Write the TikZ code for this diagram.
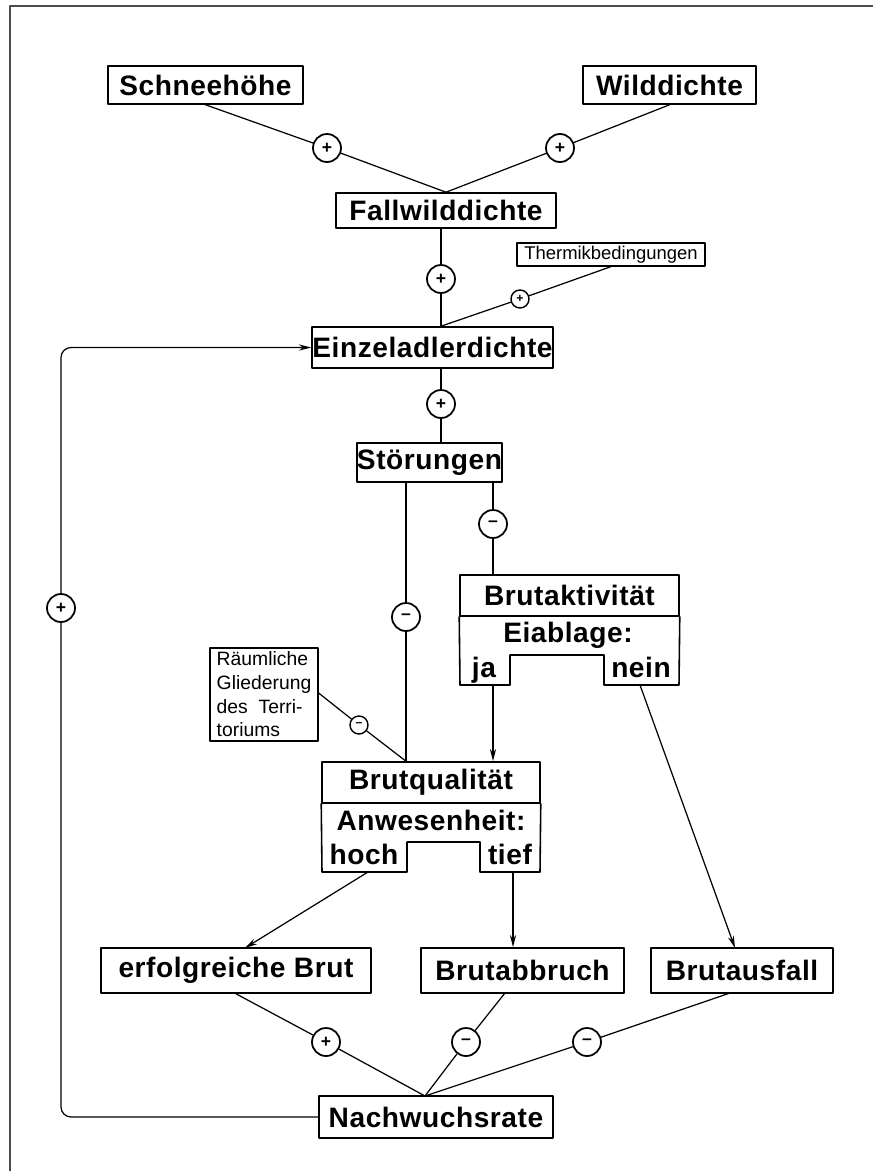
\documentclass[tikz,border=0pt]{standalone}
\usepackage{fontspec}
\setmainfont{Liberation Sans}
\newfontfamily\heavy[LetterSpace=2]{Liberation Sans}
\usetikzlibrary{arrows.meta}
\tikzset{
  factor/.style={draw,line width=0.9pt,font=\heavy\bfseries\fontsize{16}{18}\selectfont,inner sep=0pt,minimum height=0.76cm},
  label/.style={font=\heavy\bfseries\fontsize{16}{18}\selectfont,inner sep=0pt,anchor=base},
  remark/.style={draw,line width=0.7pt,font=\fontsize{10.5}{12.5}\selectfont,inner sep=0pt},
  sign/.style={circle,draw,line width=1pt,inner sep=0pt,minimum size=0.56cm,font=\bfseries},
  smallsign/.style={circle,draw,line width=0.8pt,inner sep=0pt,minimum size=0.36cm,font=\bfseries\scriptsize},
  link/.style={line width=0.7pt}
}
\begin{document}
\begin{tikzpicture}[x=0.02cm,y=-0.02cm,line cap=round,line join=round,>={Stealth[length=7pt,width=3.5pt]}]
\useasboundingbox (0,0) rectangle (873,1171);
\draw[line width=1.2pt,black!70] (873,6) -- (10,6) -- (10,1171);

\node[factor,minimum width=3.9cm] (schnee) at (205.5,85) {Schneehöhe};
\node[factor,minimum width=3.46cm] (wild) at (669.5,85) {Wilddichte};
\node[factor,minimum width=4.4cm,minimum height=0.7cm] (fall) at (446,210.5) {Fallwilddichte};
\node[remark,minimum width=3.76cm,minimum height=0.46cm] (thermik) at (611,254.5) {Thermikbedingungen};
\node[factor,minimum width=4.82cm,minimum height=0.82cm] (einzel) at (432.5,347.5) {Einzeladlerdichte};
\node[factor,minimum width=2.7cm,minimum height=0.78cm] (stoer) at (429.5,462.5) {Störungen};
\node[factor,minimum width=4.38cm,minimum height=0.82cm] (akt) at (569.5,595.5) {Brutaktivität};
\node[remark,minimum width=2.16cm,minimum height=1.86cm,align=left,font=\fontsize{11}{13.5}\selectfont] (raum) at (264,694.5)
  {Räumliche\\Gliederung\\des\ \ Terri-\\toriums};
\node[factor,minimum width=4.36cm,minimum height=0.82cm] (qual) at (431,782.5) {Brutqualität};
\node[factor,minimum width=5.4cm,minimum height=0.9cm] (erfolg) at (236,970.5) {erfolgreiche Brut};
\node[factor,minimum width=4.06cm,minimum height=0.9cm] (abbruch) at (522.5,970.5) {Brutabbruch};
\node[factor,minimum width=3.64cm,minimum height=0.9cm] (ausfall) at (742,970.5) {Brutausfall};
\node[factor,minimum width=4.68cm,minimum height=0.84cm] (nach) at (436,1117) {Nachwuchsrate};

% lower halves of the two split boxes
\draw[line width=0.9pt] (akt.south west) -- (460,685) -- (510,685) -- (510,655) -- (604,655) -- (604,685) -- (679,685) -- (akt.south east);
\node[label] (eiablage) at (568,642) {Eiablage:};
\node[label] (ja) at (484,677) {ja};
\node[label] (nein) at (641,677) {nein};
\coordinate (jaout) at (493,685);
\coordinate (neinout) at (640,685);
\draw[line width=0.9pt] (qual.south west) -- (322,872) -- (407,872) -- (407,842) -- (480,842) -- (480,872) -- (540,872) -- (qual.south east);
\node[label] (anwes) at (431,830) {Anwesenheit:};
\node[label] (hoch) at (364,864) {hoch};
\node[label] (tief) at (510,864) {tief};
\coordinate (hochout) at (368,872);
\coordinate (tiefout) at (513,872);

\node[sign] (s1) at (327,148) {+};
\node[sign] (s2) at (560,148) {+};
\node[sign] (s3) at (441,279) {+};
\node[smallsign] (s4) at (520,299) {+};
\node[sign] (s5) at (441,404) {+};
\node[sign] (s6) at (493,524) {--};
\node[sign] (s7) at (406,617) {--};
\node[smallsign] (s8) at (359,725) {--};
\node[sign] (s9) at (326,1042) {+};
\node[sign] (s10) at (466,1042) {--};
\node[sign] (s11) at (587,1042) {--};
\node[sign] (fb) at (61,608) {+};

\draw[link] (schnee.south) -- (s1) -- (fall.north);
\draw[link] (wild.south) -- (s2) -- (fall.north);
\draw[link] (s3 |- fall.south) -- (s3) -- (s3 |- einzel.north);
\draw[link] (thermik.south) -- (s4) -- (s3 |- einzel.north);
\draw[link] (s5 |- einzel.south) -- (s5) -- (s5 |- stoer.north);
\draw[link] (s6 |- stoer.south) -- (s6) -- (s6 |- akt.north);
\draw[link] (s7 |- stoer.south) -- (s7) -- (s7 |- qual.north);
\draw[link] (raum.east |- 0,693) -- (s8) -- (s7 |- qual.north);
\draw[link,->] (jaout) -- (jaout |- qual.north);
\draw[link,->] (neinout) -- (735,948);
\draw[link,->] (hochout) -- (245,948);
\draw[link,->] (tiefout) -- (tiefout |- abbruch.north);
\draw[link] (erfolg.south) -- (s9) -- (425,1096);
\draw[link] (505,993) -- (s10) -- (425,1096);
\draw[link] (730,993) -- (s11) -- (425,1096);
\draw[link,rounded corners=0.2cm] (nach.west) -| (fb.south);
\draw[link,->,rounded corners=0.2cm] (fb.north) |- (einzel.west);
\end{tikzpicture}
\end{document}
